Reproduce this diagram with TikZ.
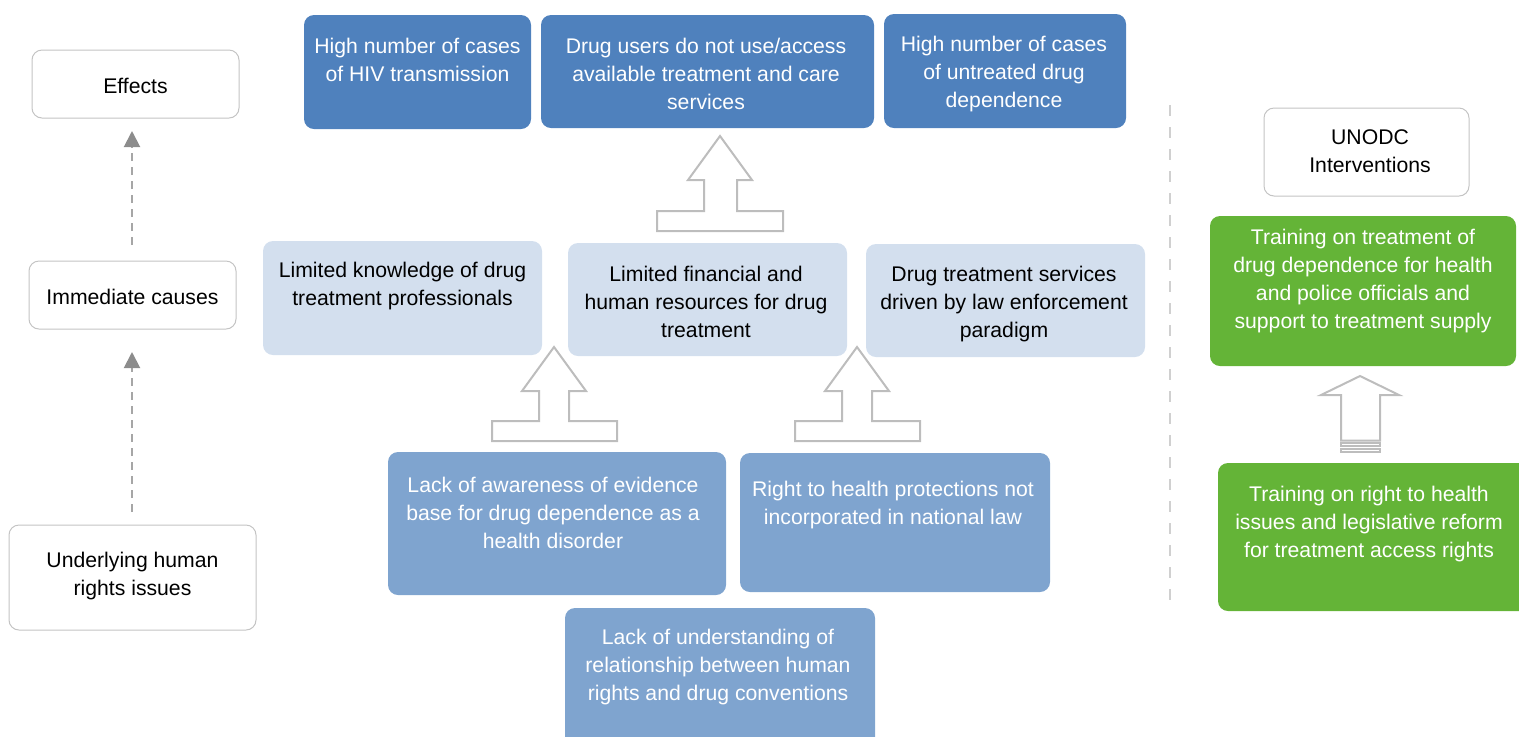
\documentclass[tikz,border=0pt]{standalone}
\usepackage{fontspec}
\setmainfont{Liberation Sans}
\usetikzlibrary{arrows.meta}
\definecolor{dkblue}{HTML}{4F81BD}
\definecolor{ltblue}{HTML}{D3DFEE}
\definecolor{mdblue}{HTML}{7FA4CF}
\definecolor{grn}{HTML}{64B437}
\definecolor{bordergray}{HTML}{C4C4C4}
\definecolor{arrgray}{HTML}{A6A6A6}
\definecolor{tipgray}{HTML}{8C8C8C}
\definecolor{blockgray}{HTML}{BDBDBD}
\tikzset{
  x=0.5pt, y=-0.5pt,
  boxbase/.style={rectangle, rounded corners=5pt, inner sep=0pt},
  whitebox/.style={boxbase, draw=bordergray, line width=0.5pt, fill=white},
  dkbox/.style={boxbase, fill=dkblue},
  ltbox/.style={boxbase, fill=ltblue},
  mdbox/.style={boxbase, fill=mdblue},
  grbox/.style={boxbase, fill=grn},
  txt/.style={align=center, inner sep=0pt, font=\fontsize{10.6}{14}\selectfont},
  wtxt/.style={txt, text=white},
  levelarrow/.style={draw=arrgray, line width=1pt, dash pattern=on 4pt off 3pt,
     -{Triangle[width=8pt,length=8pt,color=tipgray]}},
  blockarrow/.style={draw=blockgray, line width=1pt, fill=white},
}
\newcommand{\bx}[6]{% name, style, x1, y1, x2, y2
  \pgfmathsetmacro{\cx}{(#3+#5)/2}\pgfmathsetmacro{\cy}{(#4+#6)/2}%
  \pgfmathsetmacro{\ww}{(#5-#3)*0.5}\pgfmathsetmacro{\hh}{(#6-#4)*0.5}%
  \node[#2, minimum width=\ww pt, minimum height=\hh pt] (#1) at (\cx,\cy) {};}
\begin{document}
\begin{tikzpicture}
\useasboundingbox (0,0) rectangle (1519,736);
% left column
\bx{effects}{whitebox}{32}{50}{239}{118}
\node[txt] (teffects) at (135.5,86) {Effects};
\bx{immediate}{whitebox}{29}{261}{236}{329}
\node[txt] (timmediate) at (132.5,297) {Immediate causes};
\bx{underlying}{whitebox}{9}{525}{256}{630}
\node[txt] (tunderlying) at (132.5,576) {Underlying human\\rights issues};
\coordinate (e1s) at (132,245);
\coordinate (e1e) at (132,131);
\coordinate (e2s) at (132,512);
\coordinate (e2e) at (132,352);
\draw[levelarrow] (e1s) -- (e1e);
\draw[levelarrow] (e2s) -- (e2e);
% top row
\bx{top1}{dkbox}{304}{15}{531}{129}
\node[wtxt] (ttop1) at (417.5,60) {High number of cases\\of HIV transmission};
\bx{top2}{dkbox}{541}{15}{874}{128}
\node[wtxt] (ttop2) at (706,74) {Drug users do not use/access\\available treatment and care\\services};
\bx{top3}{dkbox}{884}{14}{1126}{128}
\node[wtxt] (ttop3) at (1004,74) {High number of cases\\of untreated drug\\dependence};
% middle row
\bx{mid1}{ltbox}{263}{241}{542}{355}
\node[txt] (tmid1) at (402.5,286) {Limited knowledge of drug\\treatment professionals};
\bx{mid2}{ltbox}{568}{243}{847}{356}
\node[txt] (tmid2) at (706,302) {Limited financial and\\human resources for drug\\treatment};
\bx{mid3}{ltbox}{866}{244}{1145}{357}
\node[txt] (tmid3) at (1004,304) {Drug treatment services\\driven by law enforcement\\paradigm};
% bottom row
\bx{bot1}{mdbox}{388}{452}{726}{595}
\node[wtxt] (tbot1) at (553,513) {Lack of awareness of evidence\\base for drug dependence as a\\health disorder};
\bx{bot2}{mdbox}{740}{453}{1050}{592}
\node[wtxt] (tbot2) at (893,505) {Right to health protections not\\incorporated in national law};
\bx{bot3}{mdbox}{565}{608}{875}{750}
\node[wtxt] (tbot3) at (718,667) {Lack of understanding of\\relationship between human\\rights and drug conventions};
% block arrows
\draw[blockarrow] (720,136) -- (752,180) -- (737,180) -- (737,211) -- (783,211) -- (783,231)
  -- (657,231) -- (657,211) -- (704,211) -- (704,180) -- (688,180) -- cycle;
\draw[blockarrow] (554,347) -- (586,391) -- (569,391) -- (569,421) -- (617,421) -- (617,441)
  -- (492,441) -- (492,421) -- (539,421) -- (539,391) -- (522,391) -- cycle;
\draw[blockarrow] (857,347) -- (889,391) -- (872,391) -- (872,421) -- (920,421) -- (920,441)
  -- (795,441) -- (795,421) -- (842,421) -- (842,391) -- (825,391) -- cycle;
% divider
\coordinate (d1) at (1170,105);
\coordinate (d2) at (1170,606);
\draw[draw=bordergray!80, line width=0.8pt, dash pattern=on 5.5pt off 5.5pt] (d1) -- (d2);
% right column
\bx{unodc}{whitebox}{1264}{108}{1469}{196}
\node[txt] (tunodc) at (1370,151.5) {UNODC\\Interventions};
\bx{gr1}{grbox}{1210}{216}{1516}{366}
\node[wtxt] (tgr1) at (1363,281) {Training on treatment of\\drug dependence for health\\and police officials and\\support to treatment supply};
\bx{gr2}{grbox}{1218}{463}{1535}{611}
\node[wtxt] (tgr2) at (1369,524) {Training on right to health\\issues and legislative reform\\for treatment access rights};
\draw[blockarrow] (1360,376) -- (1399,395) -- (1380,395) -- (1380,440.5) -- (1341,440.5) -- (1341,395) -- (1321,395) -- cycle;
\draw[blockarrow] (1341,443) rectangle (1380,446);
\draw[blockarrow] (1341,448.5) rectangle (1380,451.5);
\end{tikzpicture}
\end{document}
